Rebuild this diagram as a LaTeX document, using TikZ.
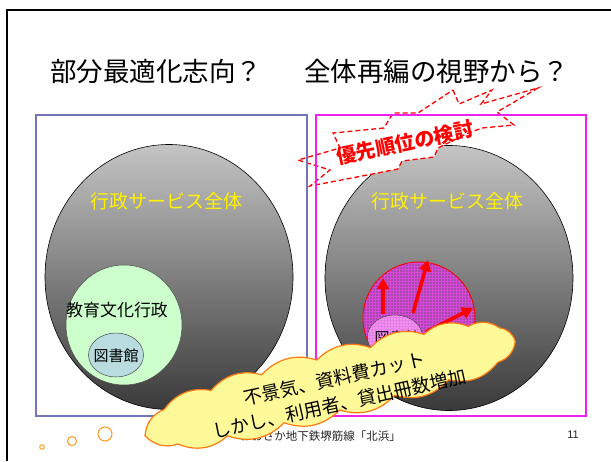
\documentclass[tikz,border=0pt]{standalone}
\usepackage{fontspec}
\setmainfont{Liberation Sans}
\newfontfamily\jp{Noto Sans CJK JP}
\usetikzlibrary{shapes.geometric,patterns,arrows.meta}
\definecolor{boxblue}{HTML}{7474B8}
\definecolor{boxmag}{HTML}{F020F0}
\definecolor{gtop}{HTML}{C4C4C4}
\definecolor{gbot}{HTML}{3A3A3A}
\definecolor{edugreen}{HTML}{CCFFCC}
\definecolor{libblue}{HTML}{B8DCE0}
\definecolor{purp}{HTML}{A848AC}
\definecolor{gridm}{HTML}{D848D8}
\definecolor{pinkl}{HTML}{F490F4}
\definecolor{cloudy}{HTML}{FFFA99}
\definecolor{cloudo}{HTML}{FF7A10}
\definecolor{dotor}{HTML}{FF9A20}
\tikzset{
  bigell/.style={ellipse, draw=black, line width=0.6pt, top color=gtop, bottom color=gbot, minimum width=248, minimum height=265, inner sep=0},
  ttl/.style={font=\jp\fontsize{26.5}{26.5}\selectfont, anchor=west, inner sep=0},
  whole/.style={text=yellow, font=\jp\fontsize{19}{19}\selectfont, inner sep=0},
  libell/.style={ellipse, draw=black!70, line width=0.5pt, minimum width=55, minimum height=44, inner sep=0},
  libtxt/.style={font=\jp\fontsize{15}{15}\selectfont, inner sep=0},
  redarr/.style={draw=red, line width=3.6pt, -{Triangle[length=11pt,width=12pt]}},
  dot/.style={circle, draw=dotor, line width=1pt, fill=white, inner sep=0},
  puff/.style={bend left=32},
}
\begin{document}
\begin{tikzpicture}[x=1pt,y=-1pt]
\useasboundingbox (0,0) rectangle (611,461);
\fill[white] (0,0) rectangle (611,461);
% slide frame
\draw[line width=2pt] (611,10) -- (6.5,10) -- (6.5,461);
% titles
\node[ttl] (t1) at (50,71) {部分最適化志向？};
\node[ttl] (t2) at (304,71) {全体再編の視野から？};
% left panel
\node[bigell] (Lbig) at (169,277) {};
\node[whole] (Lw) at (166,201) {行政サービス全体};
\node[ellipse, draw=black!70, line width=0.5pt, fill=edugreen, minimum width=116, minimum height=120, inner sep=0] (edu) at (124,325) {};
\node[font=\jp\fontsize{17}{17}\selectfont, inner sep=0] (edut) at (117,310) {教育文化行政};
\node[libell, fill=libblue] (Llib) at (116,355) {};
\node[libtxt] (Llibt) at (116,356) {図書館};
% right panel
\node[bigell] (Rbig) at (449,278) {};
\node[whole] (Rw) at (447,201) {行政サービス全体};
\node[circle, draw=red, line width=1pt, fill=purp, minimum size=112, inner sep=0] (red) at (419,318) {};
\path[pattern=grid, pattern color=gridm] (419,318) circle [radius=55.5];
\node[libell, fill=pinkl] (Rlib) at (395,337) {};
\path[pattern=grid, pattern color=gridm!70] (395,337) ellipse [x radius=27, y radius=21.5];
\node[libtxt] (Rlibt) at (397,338) {図書館};
\coordinate (a1s) at (383,314);
\coordinate (a1e) at (383,278);
\coordinate (a2s) at (413,313);
\coordinate (a2e) at (428,260);
\coordinate (a3s) at (426,332);
\coordinate (a3e) at (473,308);
\draw[redarr] (a1s) -- (a1e);
\draw[redarr] (a2s) -- (a2e);
\draw[redarr] (a3s) -- (a3e);
% explosion
\draw[red, fill=white, line width=1.3pt, dash pattern=on 5pt off 3pt]
 (453,90) -- (459,104) -- (492,90) -- (481,104) -- (538,88) -- (497,112) -- (514,125)
 -- (482,128) -- (466,134) -- (438,148) -- (434,157) -- (402,161) -- (398,169)
 -- (357,177) -- (310,186) -- (330,170) -- (298,160) -- (340,148) -- (333,133)
 -- (384,128) -- (393,113) -- (418,113) -- cycle;
% boxes
\draw[boxblue, line width=1.2pt] (36,115) rectangle (307,416);
\draw[boxmag, line width=1.2pt] (316,115) rectangle (586,416);
\node[text=red, font=\jp\bfseries\fontsize{20}{20}\selectfont, rotate=12, inner sep=0] (prio) at (405,143) {優先順位の検討};
% footer
\node[font=\jp\fontsize{11.5}{12}\selectfont, anchor=east, inner sep=0, text=black!85] (foot) at (401,436) {おおさか地下鉄堺筋線「北浜」};
\node[font=\fontsize{11}{12}\selectfont, inner sep=0, text=black!85] (pg) at (573,435) {11};
\node[dot, minimum size=4.5] (d1) at (42,447) {};
\node[dot, minimum size=9] (d2) at (72,441) {};
\node[dot, minimum size=14] (d3) at (105,434) {};
% cloud
\begin{scope}[shift={(328,384)}, rotate=14]
\draw[draw=cloudo, line width=1.2pt, fill=cloudy]
 (-190,6) to[puff] (-165,-15) to[puff] (-115,-22) to[puff] (-62,-25) to[puff] (-5,-26)
 to[puff] (50,-25) to[puff] (105,-25) to[puff] (150,-22) to[puff] (180,-13) to[puff] (192,4)
 to[puff] (170,20) to[puff] (118,25) to[puff] (62,27) to[puff] (5,28)
 to[puff] (-52,27) to[puff] (-110,26) to[puff] (-160,22) to[puff] cycle;
\end{scope}
\node[font=\jp\fontsize{18.5}{25}\selectfont, align=center, rotate=12.5, inner sep=0] (clt) at (337,391) {不景気、資料費カット\\しかし、利用者、貸出冊数増加};
\end{tikzpicture}
\end{document}
